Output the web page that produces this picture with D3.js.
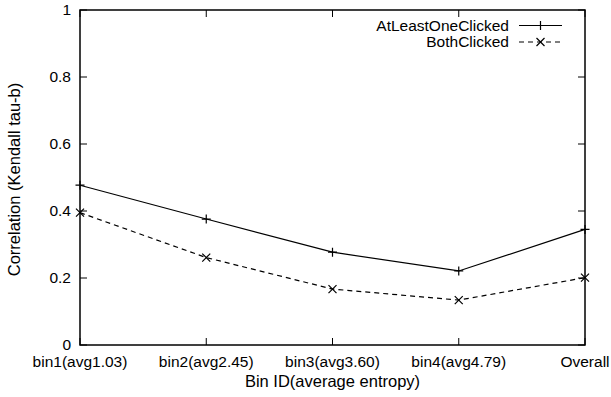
<!DOCTYPE html>
<meta charset="utf-8">
<script src="https://d3js.org/d3.v7.min.js"></script>
<style>
body { margin: 0; background: white; }
text { font-family: "Liberation Sans", Arial, sans-serif; font-size: 15.5px; fill: black; }
text.title { font-size: 16.5px; }
</style>
<div id="chart"></div>
<script>
// data
var bins = ["bin1(avg1.03)", "bin2(avg2.45)", "bin3(avg3.60)", "bin4(avg4.79)", "Overall"];
var atLeastOne = [0.477, 0.376, 0.277, 0.221, 0.345];
var bothClicked = [0.395, 0.261, 0.167, 0.134, 0.201];
var yTicks = [0, 0.2, 0.4, 0.6, 0.8, 1];
var seriesNames = ["AtLeastOneClicked", "BothClicked"];

var W = 611, H = 397;
var margin = {top: 10, right: 26, bottom: 52, left: 80};
var width = W - margin.left - margin.right,
    height = H - margin.top - margin.bottom;

var svg = d3.select("#chart").append("svg")
    .attr("width", W).attr("height", H)
  .append("g")
    .attr("transform", "translate(" + margin.left + "," + margin.top + ")");

var x = d3.scalePoint().domain(bins).range([0, width]);
var y = d3.scaleLinear().domain([0, 1]).range([height, 0]);

// ticks inward on all four sides (gnuplot style)
var tl = 7;
svg.append("g").selectAll("line").data(yTicks).enter().append("line")
  .attr("x1", 0).attr("x2", tl)
  .attr("y1", function(d){return y(d);}).attr("y2", function(d){return y(d);})
  .attr("stroke", "black");
svg.append("g").selectAll("line").data(yTicks).enter().append("line")
  .attr("x1", width).attr("x2", width - tl)
  .attr("y1", function(d){return y(d);}).attr("y2", function(d){return y(d);})
  .attr("stroke", "black");
svg.append("g").selectAll("line").data(bins).enter().append("line")
  .attr("x1", function(d){return x(d);}).attr("x2", function(d){return x(d);})
  .attr("y1", height).attr("y2", height - tl)
  .attr("stroke", "black");
svg.append("g").selectAll("line").data(bins).enter().append("line")
  .attr("x1", function(d){return x(d);}).attr("x2", function(d){return x(d);})
  .attr("y1", 0).attr("y2", tl)
  .attr("stroke", "black");

// tick labels
svg.append("g").selectAll("text").data(yTicks).enter().append("text")
  .attr("x", -9).attr("y", function(d){return y(d);})
  .attr("dy", "0.35em")
  .attr("text-anchor", "end")
  .text(function(d){return d3.format("")(d);});
svg.append("g").selectAll("text").data(bins).enter().append("text")
  .attr("x", function(d){return x(d);}).attr("y", height + 22)
  .attr("text-anchor", "middle")
  .text(function(d){return d;});

// axis titles
svg.append("text").attr("class", "title")
  .attr("x", width / 2).attr("y", height + 42)
  .attr("text-anchor", "middle")
  .text("Bin ID(average entropy)");
svg.append("text").attr("class", "title")
  .attr("transform", "translate(" + (-60) + "," + (height / 2 + 2) + ") rotate(-90)")
  .attr("text-anchor", "middle")
  .text("Correlation (Kendall tau-b)");

// border
svg.append("rect")
  .attr("width", width).attr("height", height)
  .attr("fill", "none").attr("stroke", "black").attr("stroke-width", 1.5);

var line = d3.line()
  .x(function(d, i){return x(bins[i]);})
  .y(function(d){return y(d);});

function plus(g, cx, cy) {
  g.append("path").attr("d", "M" + (cx - 4.5) + "," + cy + "H" + (cx + 4.5) + "M" + cx + "," + (cy - 4.5) + "V" + (cy + 4.5))
    .attr("stroke", "black").attr("stroke-width", 1.2).attr("fill", "none");
}
function cross(g, cx, cy) {
  var s = 4;
  g.append("path").attr("d", "M" + (cx - s) + "," + (cy - s) + "L" + (cx + s) + "," + (cy + s) + "M" + (cx - s) + "," + (cy + s) + "L" + (cx + s) + "," + (cy - s))
    .attr("stroke", "black").attr("stroke-width", 1.2).attr("fill", "none");
}

svg.append("path").datum(atLeastOne)
  .attr("d", line).attr("fill", "none").attr("stroke", "black").attr("stroke-width", 1.2);
svg.append("path").datum(bothClicked)
  .attr("d", line).attr("fill", "none").attr("stroke", "black").attr("stroke-width", 1.2)
  .attr("stroke-dasharray", "5,4");

var marks = svg.append("g");
atLeastOne.forEach(function(d, i){ plus(marks, x(bins[i]), y(d)); });
bothClicked.forEach(function(d, i){ cross(marks, x(bins[i]), y(d)); });

// legend
var lg = svg.append("g").attr("transform", "translate(" + (width - 76) + ",15.5)");
seriesNames.forEach(function(name, i) {
  var ly = i * 16.5;
  lg.append("text").attr("x", 0).attr("y", ly).attr("dy", "0.35em")
    .attr("text-anchor", "end").text(name);
  lg.append("line").attr("x1", 10).attr("x2", 53).attr("y1", ly).attr("y2", ly)
    .attr("stroke", "black").attr("stroke-width", 1.2)
    .attr("stroke-dasharray", i === 0 ? null : "5,4");
  if (i === 0) plus(lg, 31.5, ly); else cross(lg, 31.5, ly);
});
</script>
